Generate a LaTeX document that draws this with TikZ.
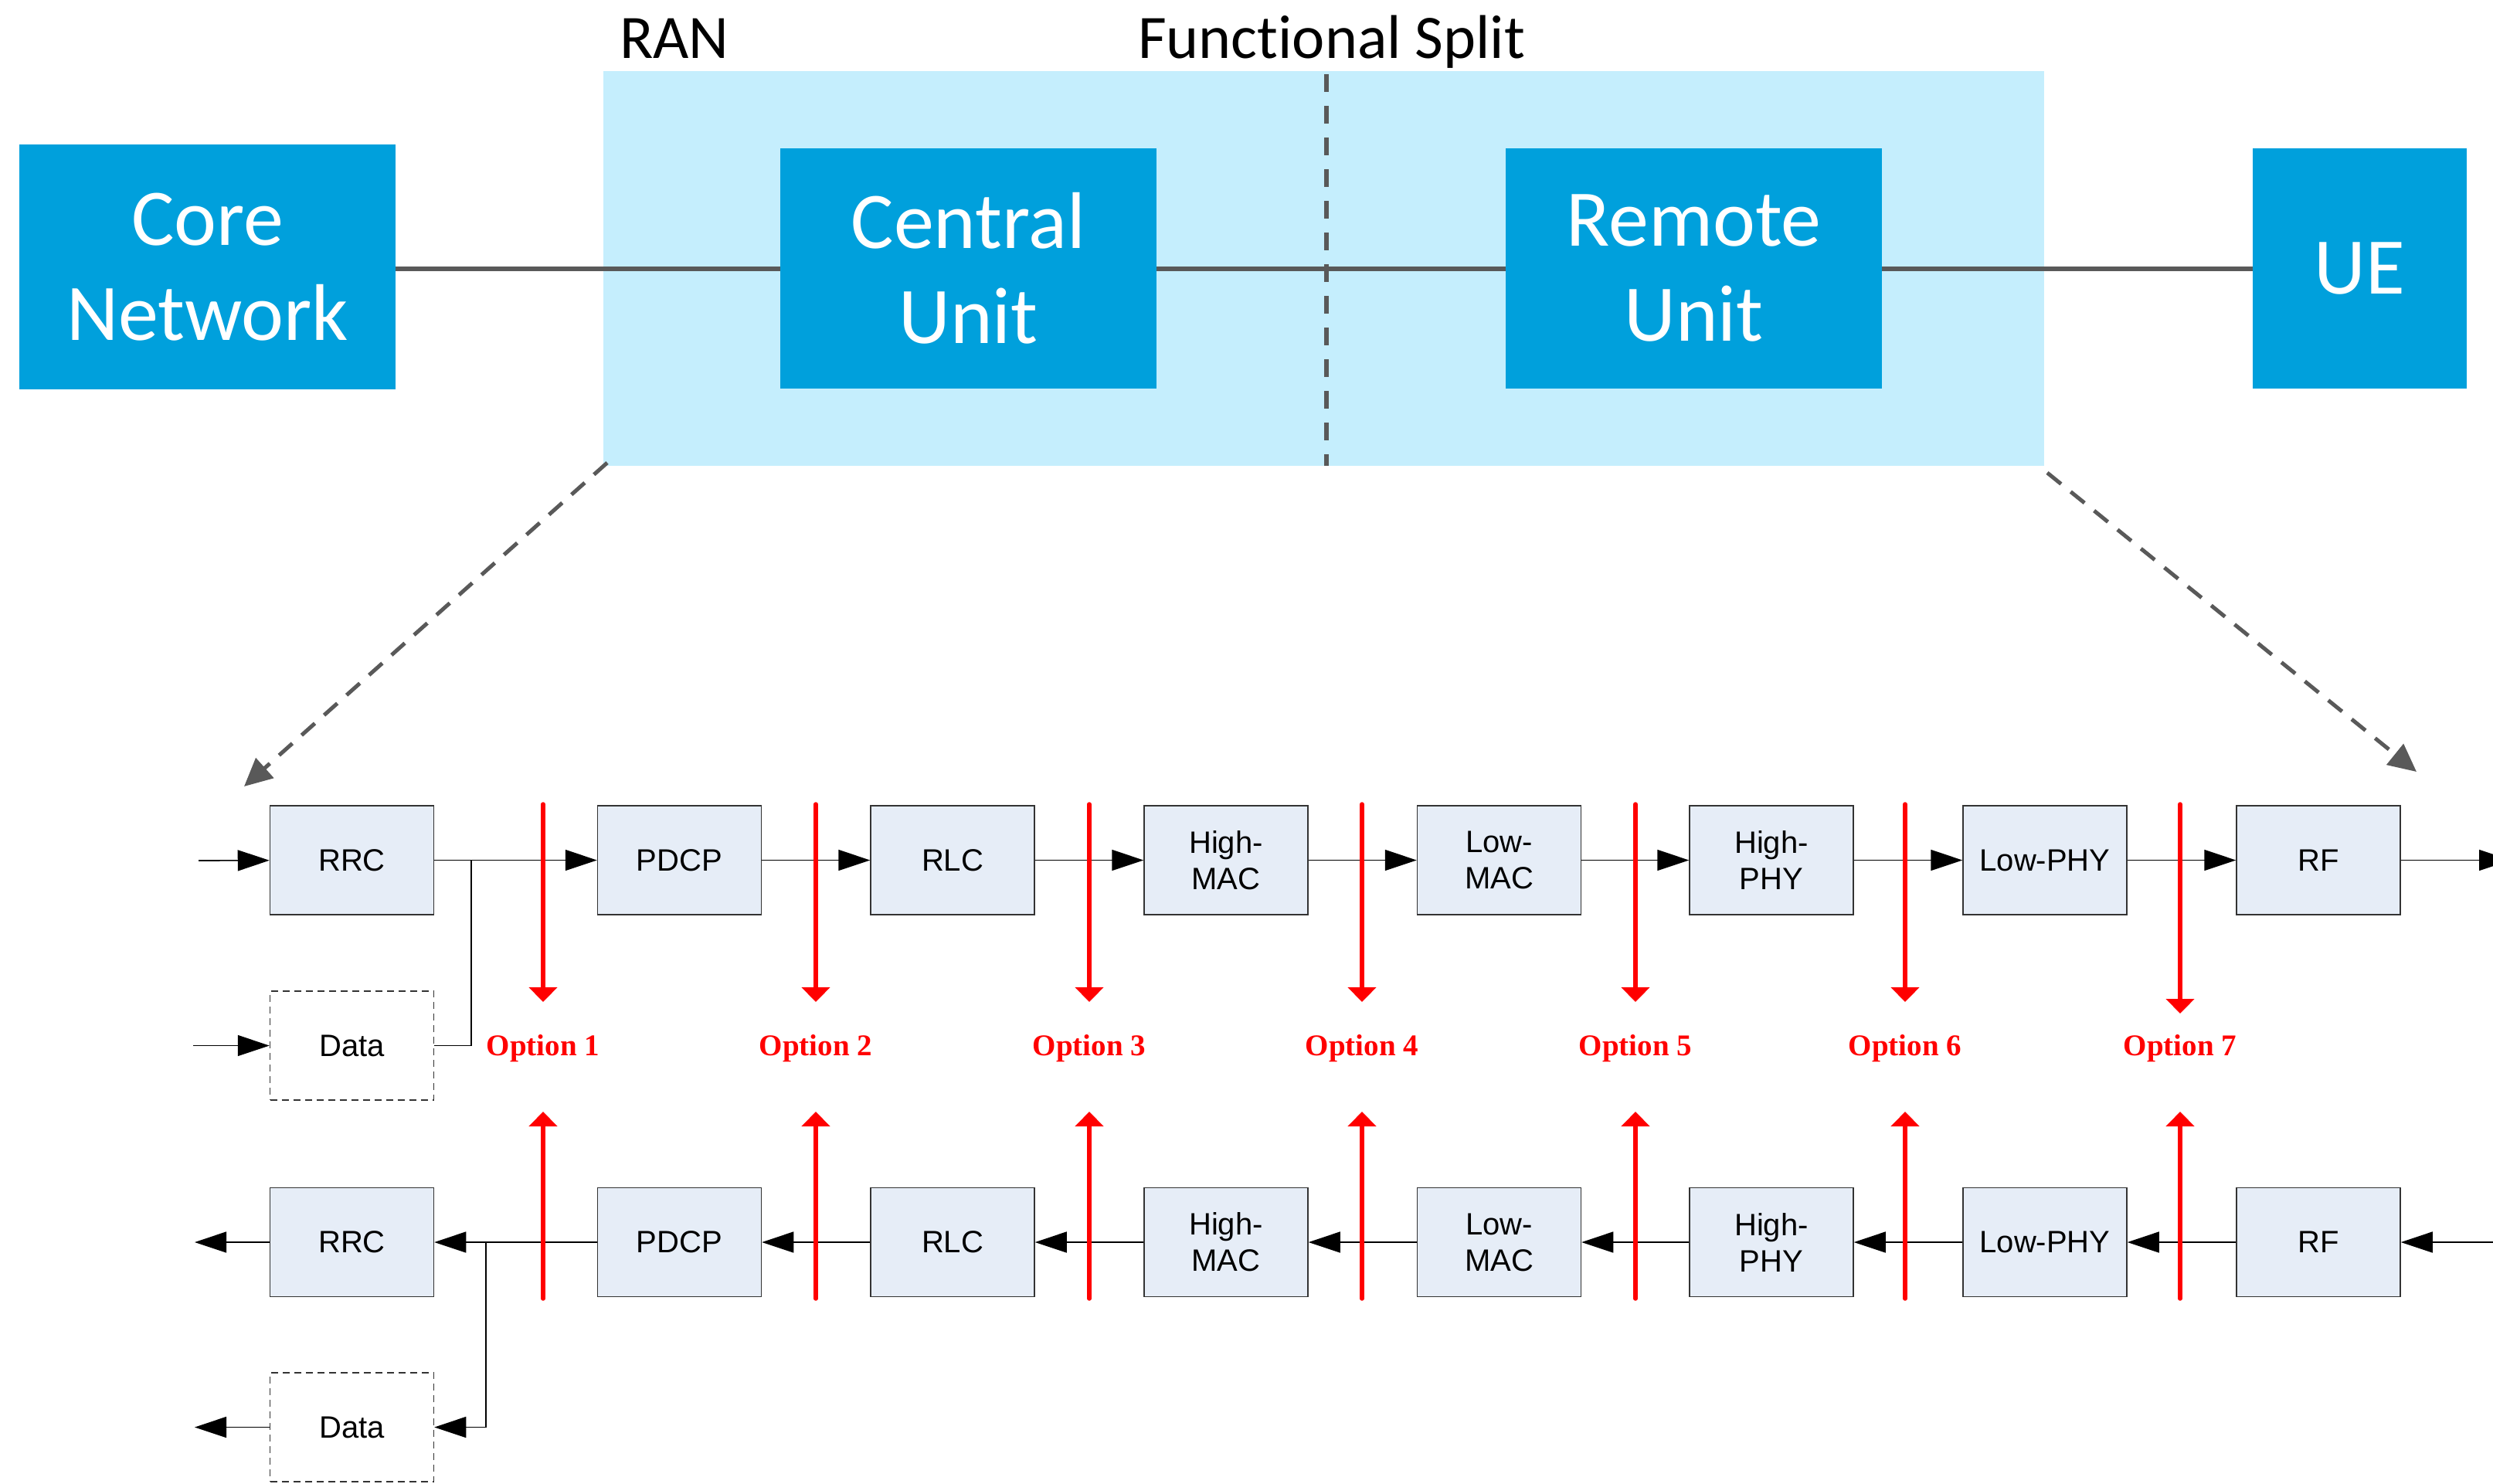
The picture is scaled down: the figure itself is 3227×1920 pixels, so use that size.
\documentclass[tikz,border=0pt]{standalone}
\usepackage{fontspec}
\setmainfont{Liberation Sans}
\newfontfamily\calibrifont[Ligatures=NoCommon]{Carlito}
\newfontfamily\arialfont{Liberation Sans}
\newfontfamily\timesfont{Liberation Serif}
\usetikzlibrary{arrows.meta}

\definecolor{unitblue}{RGB}{0,160,220}
\definecolor{ranblue}{RGB}{197,238,253}
\definecolor{layerfill}{RGB}{230,237,247}
\definecolor{linegray}{RGB}{89,89,89}
\definecolor{optred}{RGB}{255,0,0}

\begin{document}
\begin{tikzpicture}[x=1pt,y=-1pt,
  unit/.style={fill=unitblue, text=white, minimum height=311pt, inner sep=0pt,
    align=center, font=\calibrifont\fontsize{104}{123}\selectfont},
  title/.style={anchor=base west, inner sep=0pt, font=\calibrifont\fontsize{80}{96}\selectfont},
  layer/.style={draw=black!80, line width=1.5pt, fill=layerfill, minimum width=212pt,
    minimum height=141pt, inner sep=0pt, align=center,
    font=\arialfont\fontsize{40}{47}\selectfont},
  databox/.style={layer, fill=white, dash pattern=on 9pt off 6pt},
  flow/.style={line width=1.6pt, -{Triangle[length=41pt,width=27pt]}},
  joinline/.style={line width=1.6pt},
  trunk/.style={linegray, line width=5.5pt},
  zoomline/.style={linegray, line width=5pt, dash pattern=on 23pt off 16pt,
    -{Triangle[length=36pt,width=34pt]}},
  cut/.style={optred, line width=5.5pt, line cap=round, -{Triangle[length=19pt,width=36pt]}},
  optlabel/.style={anchor=base, inner sep=0pt, text=optred,
    font=\timesfont\bfseries\fontsize{39}{47}\selectfont}
]
\useasboundingbox (0,0) rectangle (3227,1920);
\fill[white] (0,0) rectangle (3227,1920);

% ---------- RAN overview ----------
\node[fill=ranblue, minimum width=1865pt, minimum height=511pt, inner sep=0pt,
  anchor=north west] (ran) at (781,92) {};
\node[title] (rantitle) at (802,75) {RAN};
\node[title] (splittitle) at (1473,75) {Functional Split};
\draw[linegray, line width=6pt, dash pattern=on 23pt off 18pt] (1717,96) -- (1717,603);

\node[unit, minimum width=487pt, minimum height=317pt] (core) at (268.5,345.5) {Core\\Network};
\node[unit, minimum width=487pt] (cu) at (1253.5,347.5) {Central\\Unit};
\node[unit, minimum width=487pt] (ru) at (2192.5,347.5) {Remote\\Unit};
\node[unit, minimum width=277pt] (ue) at (3054.5,347.5) {UE};

\draw[trunk] ([yshift=-2.5pt]core.east) -- ([yshift=-0.5pt]cu.west);
\draw[trunk] ([yshift=-0.5pt]cu.east) -- ([yshift=-0.5pt]ru.west);
\draw[trunk] ([yshift=-0.5pt]ru.east) -- ([yshift=-0.5pt]ue.west);

\coordinate (zoomL0) at (786,599);
\coordinate (zoomL1) at (316,1018);
\coordinate (zoomR0) at (2650,612);
\coordinate (zoomR1) at (3128,999);
\draw[zoomline] (zoomL0) -- (zoomL1);
\draw[zoomline] (zoomR0) -- (zoomR1);

% ---------- downlink chain ----------
\node[layer] (rrcT)  at (455.5,1113.5)  {RRC};
\node[layer] (pdcpT) at (879.5,1113.5)  {PDCP};
\node[layer] (rlcT)  at (1233,1113.5)   {RLC};
\node[layer] (hmacT) at (1587,1113.5)   {High-\\MAC};
\node[layer] (lmacT) at (1940.5,1113.5) {Low-\\MAC};
\node[layer] (hphyT) at (2293,1113.5)   {High-\\PHY};
\node[layer] (lphyT) at (2647,1113.5)   {Low-PHY};
\node[layer] (rfT)   at (3001,1113.5)   {RF};
\node[databox] (dataT) at (455.5,1353.5) {Data};

\coordinate (inT) at (257,1114);
\coordinate (inDataT) at (250,1353.5);
\coordinate (mergeT) at (610,1113.5);
\coordinate (outT) at (3250,1113.5);

\draw[flow] (inT) -- (rrcT);
\draw[flow] (inDataT) -- (dataT);
\draw[joinline] (dataT.east) -| (mergeT);
\draw[flow] (rrcT) -- (pdcpT);
\draw[flow] (pdcpT) -- (rlcT);
\draw[flow] (rlcT) -- (hmacT);
\draw[flow] (hmacT) -- (lmacT);
\draw[flow] (lmacT) -- (hphyT);
\draw[flow] (hphyT) -- (lphyT);
\draw[flow] (lphyT) -- (rfT);
\draw[flow] (rfT) -- (outT);

% ---------- uplink chain ----------
\node[layer] (rrcB)  at (455.5,1608)  {RRC};
\node[layer] (pdcpB) at (879.5,1608)  {PDCP};
\node[layer] (rlcB)  at (1233,1608)   {RLC};
\node[layer] (hmacB) at (1587,1608)   {High-\\MAC};
\node[layer] (lmacB) at (1940.5,1608) {Low-\\MAC};
\node[layer] (hphyB) at (2293,1608)   {High-\\PHY};
\node[layer] (lphyB) at (2647,1608)   {Low-PHY};
\node[layer] (rfB)   at (3001,1608)   {RF};
\node[databox] (dataB) at (455.5,1847.5) {Data};

\coordinate (outB) at (252,1608);
\coordinate (outDataB) at (252,1847.5);
\coordinate (splitB) at (629,1608);
\coordinate (inB) at (3240,1608);

\draw[flow] (inB) -- (rfB);
\draw[flow] (rfB) -- (lphyB);
\draw[flow] (lphyB) -- (hphyB);
\draw[flow] (hphyB) -- (lmacB);
\draw[flow] (lmacB) -- (hmacB);
\draw[flow] (hmacB) -- (rlcB);
\draw[flow] (rlcB) -- (pdcpB);
\draw[flow] (pdcpB) -- (rrcB);
\draw[flow] (rrcB) -- (outB);
\draw[flow] (splitB) |- (dataB.east);
\draw[flow] (dataB) -- (outDataB);

% ---------- split options ----------
\foreach \i/\x/\tip in {1/703/1297, 2/1056/1297, 3/1410/1297, 4/1763/1297,
                        5/2117/1297, 6/2466/1297, 7/2822/1312} {
  \node[optlabel] (opt\i) at (\x,1366) {Option \i};
  \draw[cut] (\x,1041) -- (\x,\tip);
  \draw[cut] (\x,1681) -- (\x,1439);
}
\end{tikzpicture}
\end{document}
